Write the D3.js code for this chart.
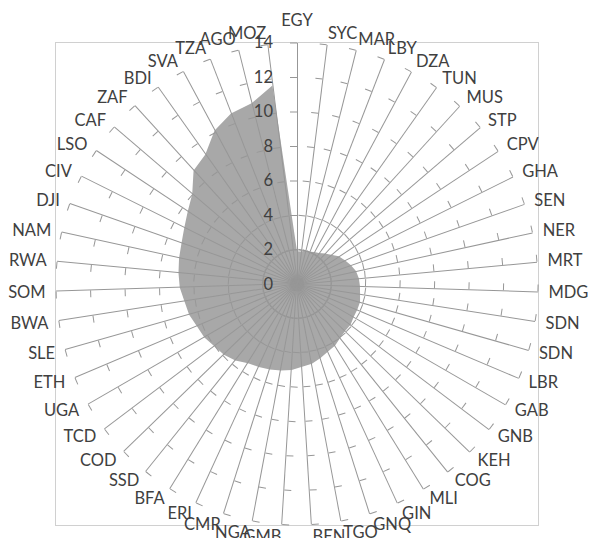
<!DOCTYPE html>
<html><head><meta charset="utf-8">
<script src="https://cdn.jsdelivr.net/npm/d3@7"></script>
<style>html,body{margin:0;padding:0;background:#fff;} svg{display:block;}</style>
</head><body><svg id="chart" width="589" height="538"></svg>
<script>
const categories = ["EGY","SYC","MAR","LBY","DZA","TUN","MUS","STP","CPV","GHA","SEN","NER","MRT","MDG","SDN","SDN","LBR","GAB","GNB","KEH","COG","MLI","GIN","GNQ","TGO","BEN","GMB","NGA","CMR","ERI","BFA","SSD","COD","TCD","UGA","ETH","SLE","BWA","SOM","RWA","NAM","DJI","CIV","LSO","CAF","ZAF","BDI","SVA","TZA","AGO","MOZ"];
const values = [1.9,1.9,2.0,2.0,2.1,2.2,2.4,2.6,2.9,3.1,3.3,3.5,3.6,3.65,3.7,3.8,3.8,3.8,3.9,3.9,4.0,4.2,4.3,4.5,4.7,4.8,5.0,5.1,5.2,5.3,5.4,5.7,5.9,6.0,6.2,6.3,6.5,6.6,6.8,6.9,7.0,7.1,7.3,7.6,8.0,8.9,9.2,10.1,10.6,10.8,11.6];
const valueTicks = [0,2,4,6,8,10,12,14];

const W = 589, H = 538, cx = 297, cy = 284, R = 241.5;
const FONT = "Lato, 'Open Sans', sans-serif";
const svg = d3.select("#chart");
svg.append("rect").attr("width", W).attr("height", H).attr("fill", "#fff");

const n = categories.length;
const angle = d3.scaleLinear().domain([0, n]).range([0, 2 * Math.PI]);
const r = d3.scaleLinear().domain([0, 14]).range([0, R]);
const rAxis = d3.scaleLinear().domain([0, 14]).range([0, -R]);

// plot area border
svg.append("rect")
  .attr("x", cx - R).attr("y", cy - R).attr("width", 2 * R).attr("height", 2 * R)
  .attr("fill", "none").attr("stroke", "#d0d0d0").attr("stroke-width", 1);

const g = svg.append("g").attr("transform", `translate(${cx},${cy})`);

// series fill
const line = d3.lineRadial()
  .angle((d, i) => angle(i))
  .radius(d => r(d))
  .curve(d3.curveLinearClosed);
g.append("path").datum(values).attr("d", line).attr("fill", "#a8a8a8").attr("stroke", "none");

// spokes with tick marks
const spokes = g.append("g");
categories.forEach((c, i) => {
  const ax = spokes.append("g")
    .attr("transform", `rotate(${angle(i) * 180 / Math.PI})`)
    .attr("color", "#979797")
    .call(d3.axisLeft(rAxis).tickValues(valueTicks).tickSizeInner(7).tickSizeOuter(0).tickPadding(17));
  ax.selectAll("text").remove();
});

// value axis labels (on EGY spoke), drawn on top
const valAx = g.append("g")
  .call(d3.axisLeft(rAxis).tickValues(valueTicks).tickSizeInner(7).tickSizeOuter(0).tickPadding(17).tickFormat(d3.format("d")));
valAx.select(".domain").remove();
valAx.selectAll("line").remove();
valAx.selectAll("text")
  .attr("fill", "#404040")
  .attr("font-family", FONT)
  .attr("font-size", 16.5);

// category labels
const labels = g.append("g").attr("font-family", FONT).attr("font-size", 16.5).attr("fill", "#404040");
categories.forEach((c, i) => {
  const t = angle(i);
  const ux = Math.sin(t), uy = -Math.cos(t);
  const ex = r(14) * ux, ey = r(14) * uy;
  let anchor = "middle";
  if (ux > 0.01) anchor = "start"; else if (ux < -0.01) anchor = "end";
  const vOff = anchor === "middle" ? 22 : 11;
  labels.append("text")
    .attr("x", ex + 10 * ux)
    .attr("y", ey + vOff * uy)
    .attr("dy", "0.35em")
    .attr("text-anchor", anchor)
    .text(c);
});
</script></body></html>
